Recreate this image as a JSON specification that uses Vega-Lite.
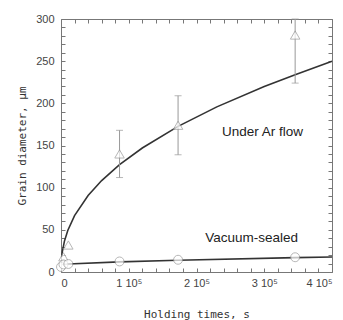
{
  "$schema": "https://vega.github.io/schema/vega-lite/v6.json",
  "autosize": "none",
  "width": 271,
  "height": 253,
  "padding": {"left": 61, "top": 19, "right": 11, "bottom": 48},
  "data": {"values": [
    {"series": "ar_curve", "t": 1000, "d": 17.9}, {"series": "ar_curve", "t": 2000, "d": 24.3}, {"series": "ar_curve", "t": 5000, "d": 36.3}, {"series": "ar_curve", "t": 10000, "d": 49.2},
    {"series": "ar_curve", "t": 20000, "d": 66.8}, {"series": "ar_curve", "t": 40000, "d": 90.7}, {"series": "ar_curve", "t": 60000, "d": 108.4}, {"series": "ar_curve", "t": 86400, "d": 127.2},
    {"series": "ar_curve", "t": 120000, "d": 147.0}, {"series": "ar_curve", "t": 172800, "d": 172.7}, {"series": "ar_curve", "t": 230000, "d": 195.8}, {"series": "ar_curve", "t": 300000, "d": 220.0},
    {"series": "ar_curve", "t": 345600, "d": 234.0}, {"series": "ar_curve", "t": 400000, "d": 250.0},
    {"series": "vac_curve", "t": 3000, "d": 8.5}, {"series": "vac_curve", "t": 10800, "d": 9.5}, {"series": "vac_curve", "t": 86400, "d": 12.0}, {"series": "vac_curve", "t": 172800, "d": 14.0},
    {"series": "vac_curve", "t": 345600, "d": 17.0}, {"series": "vac_curve", "t": 400000, "d": 17.8},
    {"series": "ar_pts", "t": 3600, "d": 18}, {"series": "ar_pts", "t": 10800, "d": 32},
    {"series": "ar_pts", "t": 86400, "d": 140, "lo": 112, "hi": 168},
    {"series": "ar_pts", "t": 172800, "d": 174, "lo": 139, "hi": 209},
    {"series": "ar_pts", "t": 345600, "d": 281, "lo": 224, "hi": 300},
    {"series": "vac_pts", "t": 0, "d": 6}, {"series": "vac_pts", "t": 3600, "d": 9}, {"series": "vac_pts", "t": 10800, "d": 9.5},
    {"series": "vac_pts", "t": 86400, "d": 12.5}, {"series": "vac_pts", "t": 172800, "d": 14.5}, {"series": "vac_pts", "t": 345600, "d": 17.5},
    {"series": "labels", "t": 237600, "d": 166, "label": "Under Ar flow"},
    {"series": "labels", "t": 213000, "d": 40, "label": "Vacuum-sealed"}
  ]},
  "config": {"axis": {"grid": false}, "view": {"stroke": "#777"}},
  "layer": [
    {
      "transform": [{"filter": "datum.series == 'ar_curve'"}],
      "mark": {"type": "line", "color": "#333", "strokeWidth": 1.6},
      "encoding": {
        "x": {"field": "t", "type": "quantitative", "scale": {"domain": [0, 400000], "nice": false},
          "axis": {"orient": "bottom", "domain": false, "tickColor": "#777", "labelColor": "#444", "labelFont": "Liberation Sans", "labelFontSize": 11, "title": "Holding times, s", "titleFont": "DejaVu Sans Mono", "titleFontSize": 11, "titleFontWeight": "normal", "titleColor": "#333", "values": [0, 20000, 40000, 60000, 80000, 100000, 120000, 140000, 160000, 180000, 200000, 220000, 240000, 260000, 280000, 300000, 320000, 340000, 360000, 380000, 400000], "labelOverlap": false, "labelExpr": "datum.value % 100000 == 0 ? (datum.value == 0 ? '0' : (datum.value / 100000) + ' 10⁵') : ''", "tickSize": -4, "labelPadding": 9, "titlePadding": 20}},
        "y": {"field": "d", "type": "quantitative", "scale": {"domain": [0, 300], "nice": false},
          "axis": {"orient": "left", "domain": false, "tickColor": "#777", "labelColor": "#444", "labelFont": "Liberation Sans", "labelFontSize": 11, "title": "Grain diameter, μm", "titleFont": "DejaVu Sans Mono", "titleFontSize": 11, "titleFontWeight": "normal", "titleColor": "#333", "values": [0, 10, 20, 30, 40, 50, 60, 70, 80, 90, 100, 110, 120, 130, 140, 150, 160, 170, 180, 190, 200, 210, 220, 230, 240, 250, 260, 270, 280, 290, 300], "labelOverlap": false, "labelExpr": "datum.value % 50 == 0 ? datum.label : ''", "tickSize": -4, "labelPadding": 11, "titlePadding": 8}}
      }
    },
    {
      "transform": [{"filter": "datum.series == 'vac_curve'"}],
      "mark": {"type": "line", "color": "#333", "strokeWidth": 1.6},
      "encoding": {
        "x": {"field": "t", "type": "quantitative", "axis": {"orient": "top", "domain": false, "tickColor": "#777", "title": null, "labels": false, "values": [0, 20000, 40000, 60000, 80000, 100000, 120000, 140000, 160000, 180000, 200000, 220000, 240000, 260000, 280000, 300000, 320000, 340000, 360000, 380000, 400000], "tickSize": -4}},
        "y": {"field": "d", "type": "quantitative", "axis": {"orient": "right", "domain": false, "tickColor": "#777", "title": null, "labels": false, "values": [0, 10, 20, 30, 40, 50, 60, 70, 80, 90, 100, 110, 120, 130, 140, 150, 160, 170, 180, 190, 200, 210, 220, 230, 240, 250, 260, 270, 280, 290, 300], "tickSize": -4}}
      }
    },
    {
      "transform": [{"filter": "datum.series == 'ar_pts' && isValid(datum.lo)"}],
      "mark": {"type": "rule", "color": "#999", "strokeWidth": 1},
      "encoding": {
        "x": {"field": "t", "type": "quantitative", "axis": null},
        "y": {"field": "lo", "type": "quantitative", "axis": null},
        "y2": {"field": "hi"}
      }
    },
    {
      "transform": [{"filter": "datum.series == 'ar_pts' && isValid(datum.lo)"}],
      "mark": {"type": "tick", "orient": "horizontal", "color": "#999", "size": 7, "thickness": 1},
      "encoding": {
        "x": {"field": "t", "type": "quantitative", "axis": null},
        "y": {"field": "lo", "type": "quantitative", "axis": null}
      }
    },
    {
      "transform": [{"filter": "datum.series == 'ar_pts' && isValid(datum.hi)"}],
      "mark": {"type": "tick", "orient": "horizontal", "color": "#999", "size": 7, "thickness": 1},
      "encoding": {
        "x": {"field": "t", "type": "quantitative", "axis": null},
        "y": {"field": "hi", "type": "quantitative", "axis": null}
      }
    },
    {
      "transform": [{"filter": "datum.series == 'ar_pts'"}],
      "mark": {"type": "point", "shape": "triangle-up", "size": 90, "filled": true, "fill": "white", "stroke": "#999", "strokeWidth": 1},
      "encoding": {
        "x": {"field": "t", "type": "quantitative", "axis": null},
        "y": {"field": "d", "type": "quantitative", "axis": null}
      }
    },
    {
      "transform": [{"filter": "datum.series == 'vac_pts'"}],
      "mark": {"type": "point", "shape": "circle", "size": 80, "filled": true, "fill": "white", "stroke": "#999", "strokeWidth": 1},
      "encoding": {
        "x": {"field": "t", "type": "quantitative", "axis": null},
        "y": {"field": "d", "type": "quantitative", "axis": null}
      }
    },
    {
      "transform": [{"filter": "datum.series == 'labels'"}],
      "mark": {"type": "text", "align": "left", "baseline": "middle", "font": "Liberation Sans", "fontSize": 13.5, "color": "#222"},
      "encoding": {
        "x": {"field": "t", "type": "quantitative", "axis": null},
        "y": {"field": "d", "type": "quantitative", "axis": null},
        "text": {"field": "label"}
      }
    }
  ],
  "resolve": {"axis": {"x": "independent", "y": "independent"}}
}
